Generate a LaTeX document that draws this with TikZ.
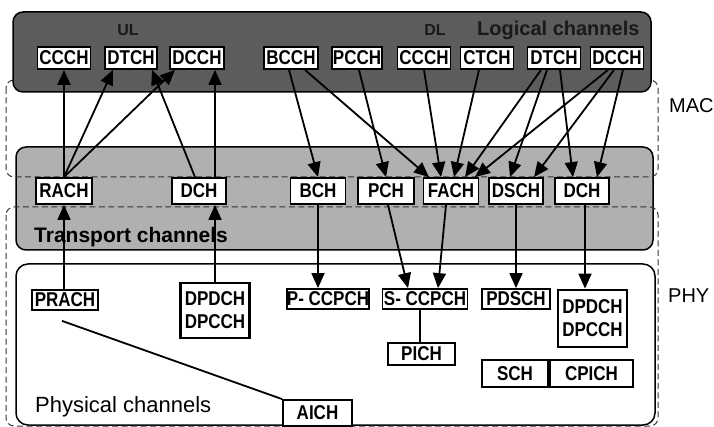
\documentclass[tikz,border=0pt]{standalone}
\usepackage{fontspec}
\setmainfont{Liberation Sans}
\newfontfamily\narr[FakeStretch=0.85]{Liberation Sans}
\usetikzlibrary{arrows.meta,calc}
\begin{document}
\begin{tikzpicture}[x=1pt,y=-1pt,
  chb/.style={draw=black, fill=white, line width=1.8pt, inner sep=0pt,
    font=\narr\bfseries\fontsize{20}{23}\selectfont, align=center},
  thickb/.style={chb, line width=2.8pt},
  arr/.style={line width=1.8pt, -{Triangle[length=15pt,width=13pt]}},
  plainln/.style={line width=1.8pt},
  regdash/.style={draw=black!80, line width=1pt, dash pattern=on 6pt off 3.5pt, rounded corners=8pt}
]
\useasboundingbox (0,0) rectangle (714,427);

% regions
\draw[line width=1.5pt, fill=black!31, rounded corners=10pt] (16,147) rectangle (653,250);
\draw[line width=1.5pt, fill=white, rounded corners=12pt] (16,264) rectangle (655,425);
\draw[regdash] (6,80) rectangle (658,177);
\draw[regdash] (6,207) rectangle (658,426);
\draw[line width=1.5pt, fill=black!64, rounded corners=10pt] (13,12) rectangle (651,92);

% region labels
\node[font=\bfseries\fontsize{16}{16}\selectfont, text=black!90, inner sep=0pt] (ul) at (128,30) {UL};
\node[font=\bfseries\fontsize{16}{16}\selectfont, text=black!90, inner sep=0pt] (dl) at (435,30) {DL};
\node[font=\bfseries\fontsize{20}{20}\selectfont, text=black!90, inner sep=0pt, anchor=base west] (lc) at (477,36) {Logical channels};
\node[font=\bfseries\fontsize{21}{21}\selectfont, inner sep=0pt, anchor=base west] (tc) at (34,243) {Transport channels};
\node[font=\fontsize{22}{22}\selectfont, inner sep=0pt, anchor=base west] (pc) at (35,412) {Physical channels};
\node[font=\fontsize{20}{20}\selectfont, inner sep=0pt, anchor=base west] (mac) at (669,113) {MAC};
\node[font=\fontsize{20}{20}\selectfont, inner sep=0pt, anchor=base west] (phy) at (668,302) {PHY};

% logical channels
\node[chb, minimum width=53pt, minimum height=22pt] (lCCCHa) at (64,58) {CCCH};
\node[chb, minimum width=52pt, minimum height=22pt] (lDTCHa) at (131,58) {DTCH};
\node[chb, minimum width=54pt, minimum height=22pt] (lDCCHa) at (197,58) {DCCH};
\node[chb, minimum width=54pt, minimum height=22pt] (lBCCH) at (291,58) {BCCH};
\node[chb, minimum width=50pt, minimum height=22pt] (lPCCH) at (357,58) {PCCH};
\node[chb, minimum width=53pt, minimum height=22pt] (lCCCHb) at (424,58) {CCCH};
\node[chb, minimum width=53pt, minimum height=22pt] (lCTCH) at (487,58) {CTCH};
\node[chb, minimum width=53pt, minimum height=22pt] (lDTCHb) at (554,58) {DTCH};
\node[chb, minimum width=53pt, minimum height=22pt] (lDCCHb) at (617,58) {DCCH};

% transport channels
\node[chb, minimum width=56pt, minimum height=26pt] (RACH) at (64,191) {RACH};
\node[chb, minimum width=54pt, minimum height=26pt] (DCHa) at (199,191) {DCH};
\node[chb, minimum width=55pt, minimum height=26pt] (BCH) at (318,191) {BCH};
\node[chb, minimum width=56pt, minimum height=26pt] (PCH) at (386,191) {PCH};
\node[chb, minimum width=55pt, minimum height=26pt] (FACH) at (451,191) {FACH};
\node[chb, minimum width=54pt, minimum height=26pt] (DSCH) at (516,191) {DSCH};
\node[chb, minimum width=54pt, minimum height=26pt] (DCHb) at (582,191) {DCH};

% physical channels
\node[chb, minimum width=66pt, minimum height=20pt] (PRACH) at (65,300) {PRACH};
\node[thickb, minimum width=69pt, minimum height=55pt] (DPa) at (215,310.5) {DPDCH\\DPCCH};
\node[chb, minimum width=81pt, minimum height=20pt] (PCCPCH) at (328,299) {P- CCPCH};
\node[chb, minimum width=85pt, minimum height=20pt] (SCCPCH) at (425,299) {S- CCPCH};
\node[chb, minimum width=68pt, minimum height=20pt] (PDSCH) at (516,299) {PDSCH};
\node[thickb, minimum width=69pt, minimum height=57pt] (DPb) at (592.5,318.5) {DPDCH\\DPCCH};
\node[chb, minimum width=67pt, minimum height=22pt] (PICH) at (421.5,354) {PICH};
\node[chb, minimum width=66pt, minimum height=27pt] (SCH) at (515,373.5) {SCH};
\node[chb, minimum width=83pt, minimum height=27pt] (CPICH) at (591.5,373.5) {CPICH};
\node[chb, minimum width=69pt, minimum height=26pt] (AICH) at (317.5,413) {AICH};

% uplink: transport -> logical
\draw[arr] (RACH.north) -- (lCCCHa.south);
\draw[arr] (RACH.north) -- ([xshift=-18pt]lDTCHa.south);
\draw[arr] (RACH.north) -- ([xshift=-22pt]lDCCHa.south);
\draw[arr] ([xshift=-4pt]DCHa.north) -- ([xshift=21pt]lDTCHa.south);
\draw[arr] ([xshift=16pt]DCHa.north) -- ([xshift=16pt]DCHa.north |- lDCCHa.south);

% downlink: logical -> transport
\draw[arr] ([xshift=-2pt]lBCCH.south) -- (BCH.north);
\draw[arr] ([xshift=14pt]lBCCH.south) -- ([xshift=-22pt]FACH.north);
\draw[arr] ([xshift=2pt]lPCCH.south) -- (PCH.north);
\draw[arr] (lCCCHb.south) -- ([xshift=-10pt]FACH.north);
\draw[arr] ([xshift=-8pt]lCTCH.south) -- ([xshift=3pt]FACH.north);
\draw[arr] ([xshift=-13pt]lDTCHb.south) -- ([xshift=14pt]FACH.north);
\draw[arr] ([xshift=-7pt]lDTCHb.south) -- ([xshift=-6pt]DSCH.north);
\draw[arr] ([xshift=6pt]lDTCHb.south) -- ([xshift=-9pt]DCHb.north);
\draw[arr] ([xshift=-9pt]lDCCHb.south) -- ([xshift=24pt]FACH.north);
\draw[arr] ([xshift=-3pt]lDCCHb.south) -- ([xshift=18pt]DSCH.north);
\draw[arr] ([xshift=6pt]lDCCHb.south) -- ([xshift=15pt]DCHb.north);

% downlink: transport -> physical
\draw[arr] (BCH.south) -- (BCH.south |- PCCPCH.north);
\draw[arr] ([xshift=2pt]PCH.south) -- ([xshift=-17pt]SCCPCH.north);
\draw[arr] ([xshift=-5pt]FACH.south) -- ([xshift=13pt]SCCPCH.north);
\draw[arr] (DSCH.south) -- (DSCH.south |- PDSCH.north);
\draw[arr] ([xshift=3pt]DCHb.south) -- ([xshift=3pt]DCHb.south |- DPb.north);

% uplink: physical -> transport
\draw[arr] (RACH.south |- PRACH.north) -- (RACH.south);
\draw[arr] (DPa.north) -- (DPa.north |- DCHa.south);

% plain associations
\draw[plainln] ([xshift=-3pt,yshift=-10pt]PRACH.south) -- (AICH.north west);
\draw[plainln] ([xshift=-5pt]SCCPCH.south) -- ([xshift=-5pt]SCCPCH.south |- PICH.north);
\end{tikzpicture}
\end{document}
